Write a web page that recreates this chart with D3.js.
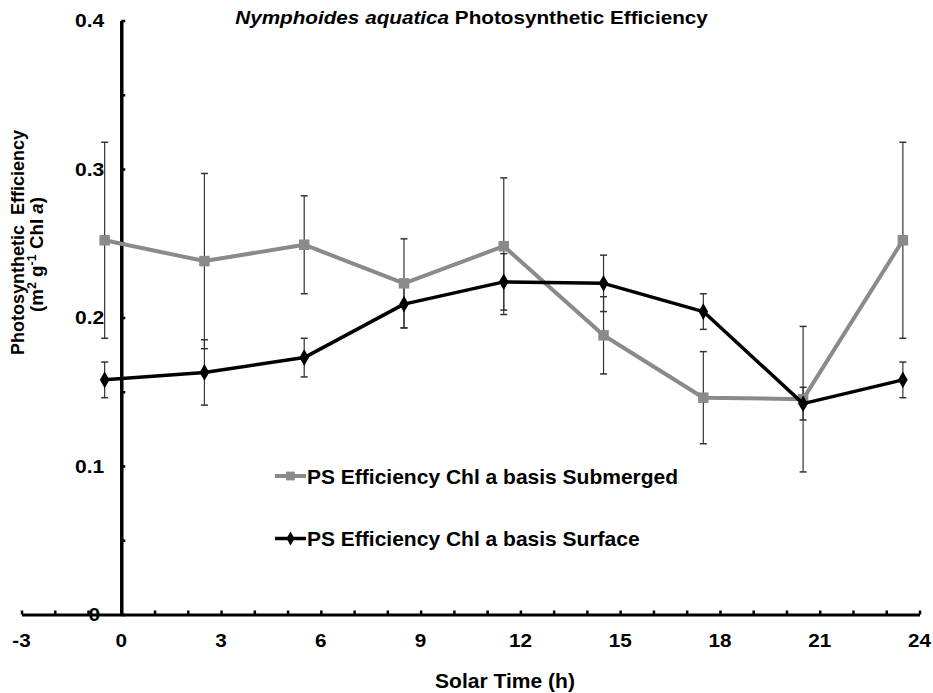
<!DOCTYPE html>
<html><head><meta charset="utf-8">
<script src="https://cdn.jsdelivr.net/npm/d3@7"></script>
<style>
html,body{margin:0;padding:0;background:#fff;}
svg text{font-family:"Liberation Sans",Arial,sans-serif;font-weight:bold;fill:#000;}
</style></head>
<body>
<svg id="chart" width="933" height="693"></svg>
<script>
const hours = [-0.5, 2.5, 5.5, 8.5, 11.5, 14.5, 17.5, 20.5, 23.5];
const submerged = [0.252, 0.238, 0.249, 0.223, 0.248, 0.188, 0.146, 0.145, 0.252];
const submergedErr = [0.066, 0.059, 0.033, 0.030, 0.046, 0.026, 0.031, 0.049, 0.066];
const surface = [0.158, 0.163, 0.173, 0.209, 0.224, 0.223, 0.204, 0.142, 0.158];
const surfaceErr = [0.012, 0.022, 0.013, 0.016, 0.019, 0.019, 0.012, 0.011, 0.012];
const xTickLabels = [-3, 0, 3, 6, 9, 12, 15, 18, 21, 24];
const yTickLabels = [0, 0.1, 0.2, 0.3, 0.4];
const seriesNames = ["PS Efficiency Chl a basis Submerged", "PS Efficiency Chl a basis Surface"];

const svg = d3.select("#chart");
const x = d3.scaleLinear().domain([-3, 24]).range([21.5, 919.5]);
const y = d3.scaleLinear().domain([0, 0.4]).range([614.5, 20.5]);
const GRAY = "#8a8a8a";

function fit(t, tx, ty, rot, targetW) {
  const w = t.node().getComputedTextLength();
  const s = targetW ? targetW / w : 1;
  t.attr("transform", `translate(${tx},${ty}) rotate(${rot}) scale(${s},1)`);
}

// axes
const xAxisG = svg.append("g").attr("transform", `translate(0,${y(0)})`);
xAxisG.call(d3.axisBottom(x).tickValues(d3.range(-3, 25, 1)).tickSize(-4).tickSizeOuter(0).tickFormat(""));
xAxisG.select(".domain").attr("stroke", "#000").attr("stroke-width", 3);
xAxisG.selectAll(".tick line").attr("stroke", "#000").attr("stroke-width", 2.5);
xAxisG.selectAll(".xl").data(xTickLabels).join("text")
  .attr("class", "xl").attr("text-anchor", "middle").style("font-size", "18px").text(d => d)
  .attr("transform", d => `translate(${x(d)},32.5) scale(1.15,1)`);

const yAxisG = svg.append("g").attr("transform", `translate(${x(0)},0)`);
yAxisG.call(d3.axisLeft(y).tickValues(d3.range(0, 0.401, 0.05)).tickSize(-4).tickSizeOuter(0).tickFormat(""));
yAxisG.select(".domain").attr("stroke", "#000").attr("stroke-width", 3.5);
yAxisG.selectAll(".tick line").attr("stroke", "#000").attr("stroke-width", 2.5);
yAxisG.selectAll(".yl").data(yTickLabels).join("text")
  .attr("class", "yl").attr("text-anchor", "end").style("font-size", "18px")
  .text(d => d === 0 ? "0" : d3.format(".1f")(d))
  .attr("transform", d => `translate(${d === 0 ? -21 : -17},${y(d) + 6.5}) scale(1.17,1)`);

// titles
const title = svg.append("text").attr("text-anchor", "middle").style("font-size", "17.5px");
title.append("tspan").style("font-style", "italic").text("Nymphoides aquatica");
title.append("tspan").text(" Photosynthetic Efficiency");
fit(title, 471.5, 24, 0, 473);

const xt = svg.append("text").attr("text-anchor", "middle").style("font-size", "21px").text("Solar Time (h)");
fit(xt, 505, 688, 0, 140);

const yt1 = svg.append("text").attr("text-anchor", "middle").style("font-size", "18px").style("white-space", "pre").text("Photosynthetic  Efficiency");
fit(yt1, 24, 242.5, -90, 225);
const yt2 = svg.append("text").attr("text-anchor", "middle").style("font-size", "18px");
yt2.append("tspan").text("(m");
yt2.append("tspan").attr("dy", -7).style("font-size", "12px").text("2");
yt2.append("tspan").attr("dy", 7).text(" g");
yt2.append("tspan").attr("dy", -7).style("font-size", "12px").text("-1");
yt2.append("tspan").attr("dy", 7).text(" Chl ");
yt2.append("tspan").style("font-style", "italic").text("a");
yt2.append("tspan").text(")");
fit(yt2, 43, 254.5, -90, 115);

// data
const series = [
  {vals: submerged, err: submergedErr, color: GRAY, width: 4, shape: d3.symbolSquare, size: 110},
  {vals: surface, err: surfaceErr, color: "#000", width: 3.5, shape: d3.symbolDiamond, size: 80}
];

// error bars
series.forEach(s => {
  const g = svg.append("g");
  hours.forEach((h, i) => {
    const cx = x(h), yt = y(s.vals[i] + s.err[i]), yb = y(s.vals[i] - s.err[i]);
    g.append("line").attr("x1", cx).attr("x2", cx).attr("y1", yt).attr("y2", yb).attr("stroke", "#333").attr("stroke-width", 1.2);
    [yt, yb].forEach(yy => g.append("line").attr("x1", cx - 3.5).attr("x2", cx + 3.5).attr("y1", yy).attr("y2", yy).attr("stroke", "#333").attr("stroke-width", 1.5));
  });
});

const line = d3.line().x(d => x(d[0])).y(d => y(d[1]));
series.forEach(s => {
  const pts = hours.map((h, i) => [h, s.vals[i]]);
  svg.append("path").datum(pts).attr("d", line).attr("fill", "none").attr("stroke", s.color).attr("stroke-width", s.width).attr("stroke-linejoin", "round");
  svg.selectAll(null).data(pts).join("path")
    .attr("transform", d => `translate(${x(d[0])},${y(d[1])})`)
    .attr("d", d3.symbol().type(s.shape).size(s.size)).attr("fill", s.color);
});

// legend
const legY = [476, 538.5];
series.forEach((s, i) => {
  const g = svg.append("g").attr("transform", `translate(275,${legY[i]})`);
  g.append("line").attr("x1", 0).attr("x2", 31).attr("y1", 0).attr("y2", 0).attr("stroke", s.color).attr("stroke-width", s.width);
  g.append("path").attr("transform", "translate(15.5,0)").attr("d", d3.symbol().type(s.shape).size(s.size * 0.7)).attr("fill", s.color);
  g.append("text").attr("x", 32).attr("y", 7.5).style("font-size", "21px").text(seriesNames[i]);
});
</script>
</body></html>
